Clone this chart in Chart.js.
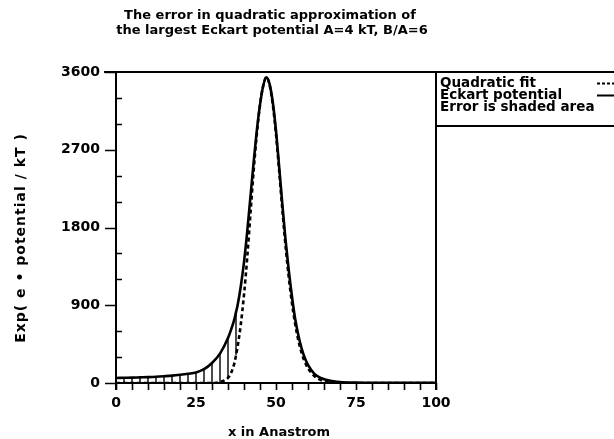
<!DOCTYPE html>
<html>
<head>
<meta charset="utf-8">
<script src="https://cdn.jsdelivr.net/npm/chart.js@4.4.1/dist/chart.umd.min.js"></script>
<style>
  html, body { margin: 0; padding: 0; background: #fff; }
  #wrap { width: 614px; height: 439px; }
</style>
</head>
<body>
<div id="wrap"><canvas id="c" width="614" height="439"></canvas></div>
<script>
// Sample positions along x (Angstrom)
const xPositions = [0, 2.5, 5, 7.5, 10, 12.5, 15, 17.5, 20, 22.5, 25, 27.5, 30, 32.5, 35, 36, 37, 37.5, 38, 39,
  40, 41, 42, 43, 44, 45, 46, 47, 48, 49, 50, 51, 52, 53, 54, 55, 56, 57, 58, 59, 60, 62, 64, 66, 68, 70,
  75, 80, 85, 90, 95, 100];

// exp(e*potential/kT) for the Eckart barrier
const eckartValues = [58, 60, 62, 65, 68, 72, 78, 85, 95, 107, 122, 160, 232, 340, 520, 620, 740, 820, 900, 1120,
  1400, 1750, 2150, 2550, 2920, 3220, 3440, 3540, 3460, 3250, 2920, 2500, 2060, 1650, 1300, 1000, 740, 550, 400, 290,
  210, 105, 58, 35, 20, 12,
  5, 2, 1, 1, 1, 1];

// Same quantity with the quadratic approximation of the barrier
const quadraticValues = [0, 0, 0, 0, 0, 0, 0, 0, 0, 0, 0, 0, 0, 10, 60, 120, 230, 320, 420, 680,
  1020, 1450, 1950, 2450, 2880, 3220, 3440, 3540, 3450, 3220, 2880, 2450, 2000, 1580, 1220, 920, 680, 490, 350, 245,
  170, 80, 35, 15, 6, 2,
  0, 0, 0, 0, 0, 0];

// Hatched error region: vertical strokes every 2.5 A up to this x
const hatchStep = 2.5;
const hatchEnd = 37.5;

const yTickLabels = [0, 900, 1800, 2700, 3600];
const xTickLabels = [0, 25, 50, 75, 100];

const titleLines = ['The error in quadratic approximation of', 'the largest Eckart potential A=4 kT, B/A=6'];
const xAxisTitle = 'x in Anastrom';
const yAxisTitle = 'Exp( e \u2022 potential / kT )';
const legendRows = ['Quadratic fit', 'Eckart potential', 'Error is shaded area'];

const FONT = '"DejaVu Sans", sans-serif';

const toPoints = (vals) => xPositions.map((x, i) => ({ x: x, y: vals[i] }));

// vertical strokes between the two curves, separated by null gaps
const hatchPoints = [];
xPositions.forEach((x, i) => {
  if (x > 0 && x <= hatchEnd && Math.abs(x / hatchStep - Math.round(x / hatchStep)) < 1e-9) {
    hatchPoints.push({ x: x, y: quadraticValues[i] });
    hatchPoints.push({ x: x, y: eckartValues[i] });
    hatchPoints.push({ x: x, y: null });
  }
});

const framePlugin = {
  id: 'frame',
  beforeDraw(chart) {
    const ctx = chart.ctx;
    ctx.save();
    ctx.fillStyle = '#fff';
    ctx.fillRect(0, 0, chart.width, chart.height);
    ctx.restore();
  },
  afterDraw(chart) {
    const ctx = chart.ctx;
    const a = chart.chartArea;
    const xs = chart.scales.x, ys = chart.scales.y;
    ctx.save();
    ctx.strokeStyle = '#000';
    ctx.fillStyle = '#000';
    ctx.lineCap = 'butt';

    // plot frame
    ctx.lineWidth = 2;
    ctx.beginPath();
    ctx.moveTo(104, a.top); ctx.lineTo(chart.width, a.top);
    ctx.moveTo(a.left, a.top); ctx.lineTo(a.left, a.bottom + 7);
    ctx.moveTo(a.left, a.bottom); ctx.lineTo(a.right, a.bottom);
    ctx.moveTo(a.right, a.top); ctx.lineTo(a.right, a.bottom + 7);
    ctx.stroke();

    // y ticks: majors outward, minors inward
    ctx.lineWidth = 1.6;
    ctx.beginPath();
    for (let v = ys.min; v <= ys.max; v += 300) {
      const py = Math.round(ys.getPixelForValue(v)) + 0.5;
      if (v % 900 === 0) { ctx.moveTo(a.left - 11, py); ctx.lineTo(a.left, py); }
      else { ctx.moveTo(a.left, py); ctx.lineTo(a.left + 6, py); }
    }
    // x ticks every 5
    for (let v = xs.min; v <= xs.max; v += 5) {
      const px = Math.round(xs.getPixelForValue(v)) + 0.5;
      ctx.moveTo(px, a.bottom); ctx.lineTo(px, a.bottom + 7);
    }
    ctx.stroke();

    // title
    ctx.font = 'bold 13px ' + FONT;
    ctx.textAlign = 'center';
    ctx.textBaseline = 'middle';
    ctx.fillText(titleLines[0], 270, 16);
    ctx.fillText(titleLines[1], 272, 31);

    // axis titles
    ctx.font = 'bold 13px ' + FONT;
    ctx.fillText(xAxisTitle, 279, 433);
    ctx.save();
    ctx.translate(21, 238);
    ctx.rotate(-Math.PI / 2);
    ctx.font = 'bold 14px ' + FONT;
    ctx.letterSpacing = '1px';
    ctx.fillText(yAxisTitle, 0, 0);
    ctx.restore();

    // legend box
    const lx = a.right, lb = 126;
    ctx.lineWidth = 2;
    ctx.beginPath();
    ctx.moveTo(lx, lb); ctx.lineTo(chart.width, lb);
    ctx.stroke();
    ctx.font = 'bold 13.5px ' + FONT;
    ctx.textAlign = 'left';
    const rowY = [83, 95, 107];
    legendRows.forEach((t, i) => ctx.fillText(t, lx + 4, rowY[i]));
    ctx.lineWidth = 2;
    ctx.setLineDash([3, 2]);
    ctx.beginPath();
    ctx.moveTo(597, rowY[0] + 0.5); ctx.lineTo(614, rowY[0] + 0.5);
    ctx.stroke();
    ctx.setLineDash([]);
    ctx.beginPath();
    ctx.moveTo(597, rowY[1] + 0.5); ctx.lineTo(614, rowY[1] + 0.5);
    ctx.stroke();
    ctx.restore();
  }
};

new Chart(document.getElementById('c'), {
  type: 'line',
  data: {
    datasets: [
      {
        label: legendRows[2],
        data: hatchPoints,
        borderColor: '#000',
        borderWidth: 1.4,
        pointRadius: 0,
        spanGaps: false,
        tension: 0,
        order: 3
      },
      {
        label: legendRows[0],
        data: toPoints(quadraticValues),
        borderColor: '#000',
        borderWidth: 2.6,
        borderDash: [4, 3],
        pointRadius: 0,
        cubicInterpolationMode: 'monotone',
        order: 2
      },
      {
        label: legendRows[1],
        data: toPoints(eckartValues),
        borderColor: '#000',
        borderWidth: 2.6,
        pointRadius: 0,
        cubicInterpolationMode: 'monotone',
        order: 1
      }
    ]
  },
  options: {
    responsive: false,
    animation: false,
    devicePixelRatio: 1,
    layout: { padding: { left: 0, right: 178, top: 72, bottom: 0 } },
    plugins: {
      legend: { display: false },
      title: { display: false },
      tooltip: { enabled: false }
    },
    scales: {
      x: {
        type: 'linear',
        min: 0,
        max: 100,
        grid: { display: false },
        border: { display: false },
        ticks: {
          stepSize: 25,
          padding: 4,
          color: '#000',
          font: { family: FONT, size: 14, weight: 'bold' },
          maxRotation: 0,
          callback: (v) => xTickLabels.includes(v) ? String(v) : ''
        },
        afterFit: (s) => { s.height = 56; }
      },
      y: {
        type: 'linear',
        min: 0,
        max: 3600,
        grid: { display: false },
        border: { display: false },
        ticks: {
          stepSize: 900,
          padding: 8,
          color: '#000',
          font: { family: FONT, size: 14, weight: 'bold' },
          callback: (v) => yTickLabels.includes(v) ? String(v) : ''
        },
        afterFit: (s) => { s.width = 116; }
      }
    }
  },
  plugins: [framePlugin]
});
</script>
</body>
</html>
